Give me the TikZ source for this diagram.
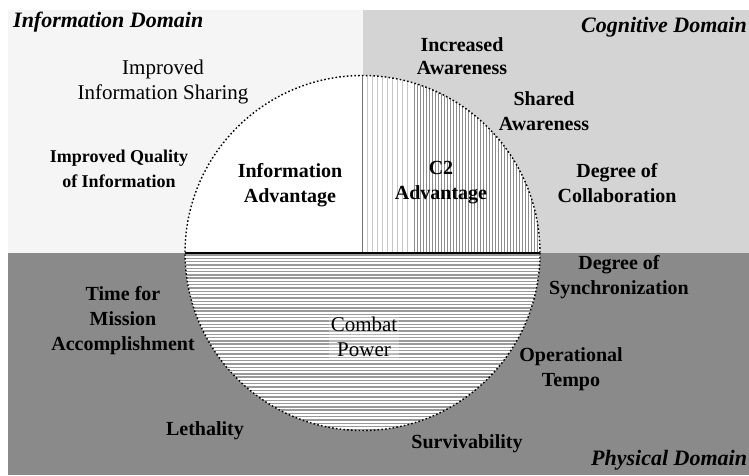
\documentclass[tikz,border=0pt]{standalone}
\usepackage{fontspec}
\setmainfont{Liberation Serif}
\begin{document}
\begin{tikzpicture}[
            x=1pt, y=-1pt,
            lbl/.style={font=\bfseries\fontsize{20}{25}\selectfont, align=center, inner sep=0pt},
            lblsmall/.style={font=\bfseries\fontsize{18}{25}\selectfont, align=center, inner sep=0pt},
            lblplain/.style={font=\fontsize{21}{25}\selectfont, align=center, inner sep=0pt},
            domname/.style={font=\bfseries\itshape\fontsize{22}{26}\selectfont, inner sep=0pt},
            hatchh/.style={black!40, line width=1.4pt},
            hatchlight/.style={black!22, line width=0.6pt},
            hatchdark/.style={black!45, line width=0.8pt},
            rim/.style={black, line width=1.4pt, dash pattern=on 1.6pt off 2.2pt}
        ]
		\def\crad{177.5}
		\definecolor{infofill}{gray}{0.96}
		\definecolor{cogfill}{gray}{0.83}
		\definecolor{physfill}{gray}{0.54}
		
		\useasboundingbox (0,0) rectangle (749,475);
		
		%Domains
		\fill[infofill] (8,10) rectangle (362.5,253);
		\fill[cogfill] (362.5,10) rectangle (749,253);
		\fill[physfill] (8,253) rectangle (749,475);
		
		\coordinate (c) at (362.5,253);
		\fill[white] (c) circle (\crad);
		
		%Hatching, lower half
		\begin{scope}
			\clip (c) circle (\crad);
			\clip (180,253) rectangle (545,435);
			\foreach \y in {255,258.3,...,434}
				\draw[hatchh] (180,\y) -- (545,\y);
		\end{scope}
		
		%Hatching, C2 quarter
		\begin{scope}
			\clip (c) circle (\crad);
			\clip (362.5,70) rectangle (545,253);
			\foreach \x in {367,372,...,411}
				\draw[hatchlight] (\x,70) -- (\x,253);
			\foreach \x in {414,417,...,542}
				\draw[hatchdark] (\x,70) -- (\x,253);
		\end{scope}
		
		%Circle
		\draw[rim] (c) circle (\crad);
		\draw[black!55, line width=0.8pt] (c) -- ++(0,-\crad);
		\draw[black, line width=1.8pt] (c) ++(-\crad,0) -- ++(2*\crad,0);
		
		%Domain names
		\node[domname, anchor=west] (infodom) at (13,22) {Information Domain};
		\node[domname, anchor=west] (cogdom) at (581,27) {Cognitive Domain};
		\node[domname, anchor=west] (physdom) at (591,460) {Physical Domain};
		
		%Information
		\node[lblplain] (sharing) at (163,82) {Improved\\Information Sharing};
		\node[lblsmall] (quality) at (119,169) {Improved Quality\\of Information};
		\node[lbl] (infoadv) at (290,185) {Information\\Advantage};
		
		%Cognitive
		\node[lbl, font=\bfseries\fontsize{20}{23}\selectfont] (incaware) at (462,56) {Increased\\Awareness};
		\node[lbl] (sharedaware) at (544,111) {Shared\\Awareness};
		\node[lbl] (c2adv) at (441,183) {C2\\Advantage};
		\node[lbl] (collab) at (617,183) {Degree of\\Collaboration};
		
		%Physical
		\node[lbl] (sync) at (619,277) {Degree of\\Synchronization};
		\node[lbl] (tempo) at (571,369) {Operational\\Tempo};
		\node[lbl] (surviv) at (467,444) {Survivability};
		\node[lbl] (lethal) at (205,431) {Lethality};
		\node[lbl] (missiontime) at (123,321) {Time for\\Mission\\Accomplishment};
		\node[lblplain, fill=white, fill opacity=0.3, text opacity=1, inner sep=2pt] (combat) at (364,337) {Combat\\Power};
    \end{tikzpicture}
\end{document}
